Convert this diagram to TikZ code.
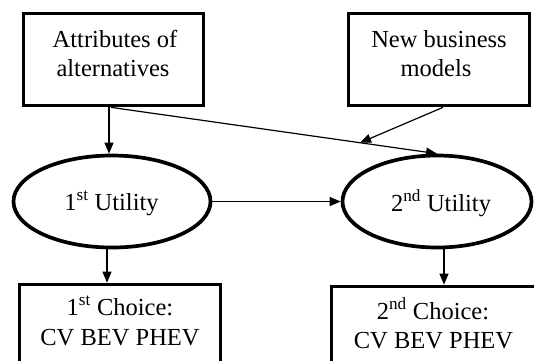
\documentclass[tikz,border=0pt]{standalone}
\usepackage{fontspec}
\setmainfont{Liberation Serif}
\usetikzlibrary{arrows.meta,shapes.geometric,calc}
\begin{document}
\begin{tikzpicture}[x=1pt,y=-1pt,
  boxnode/.style={draw=black,line width=3.7pt,rectangle,inner sep=0pt},
  ellnode/.style={draw=black,line width=3.7pt,ellipse,inner sep=0pt},
  txt/.style={inner sep=0pt,anchor=base,font=\fontsize{24.5}{29.5}\selectfont},
  arr/.style={line width=1.2pt,-{Triangle[length=11pt,width=9pt]}}]
\useasboundingbox (0,0) rectangle (534,360);
% boxes and ellipses
\node[boxnode,minimum width=180pt,minimum height=92pt] (box1) at (113.5,59.5) {};
\node[boxnode,minimum width=181pt,minimum height=92pt] (box2) at (439,59.5) {};
\node[ellnode,minimum width=197pt,minimum height=92pt] (ell1) at (112,201.5) {};
\node[ellnode,minimum width=189pt,minimum height=92pt] (ell2) at (437,201.5) {};
\node[boxnode,minimum width=201pt,minimum height=91pt] (box3) at (120,330) {};
\node[boxnode,minimum width=204pt,minimum height=91pt] (box4) at (433.5,332) {};
% texts
\node[txt] (t1a) at (115,47.6) {Attributes of};
\node[txt] (t1b) at (113,76.5) {alternatives};
\node[txt] (t2a) at (439,47.6) {New business};
\node[txt] (t2b) at (436,76.5) {models};
\node[txt] (te1) at (111.5,210) {1\textsuperscript{st} Utility};
\node[txt] (te2) at (441,211) {2\textsuperscript{nd} Utility};
\node[txt] (t3a) at (120,315) {1\textsuperscript{st} Choice:};
\node[txt] (t3b) at (120,345) {CV BEV PHEV};
\node[txt] (t4a) at (433,319) {2\textsuperscript{nd} Choice:};
\node[txt] (t4b) at (433.5,348.5) {CV BEV PHEV};
% connectors
\coordinate (d1) at (box1.south -| 111,0);
\coordinate (m) at ($(d1)!0.764!(ell2.north)$);
\draw[arr] (box1.south -| 109,0) -- (ell1.north -| 109,0);
\draw[arr] (d1) -- (ell2.north);
\draw[arr] (box2.south -| 443,0) -- (m);
\draw[arr] (ell1.east) -- (ell2.west);
\draw[arr] (ell1.south -| 107,0) -- (box3.north -| 107,0);
\draw[arr] ([yshift=2pt]ell2.south -| 444,0) -- (box4.north -| 444,0);
\end{tikzpicture}
\end{document}
